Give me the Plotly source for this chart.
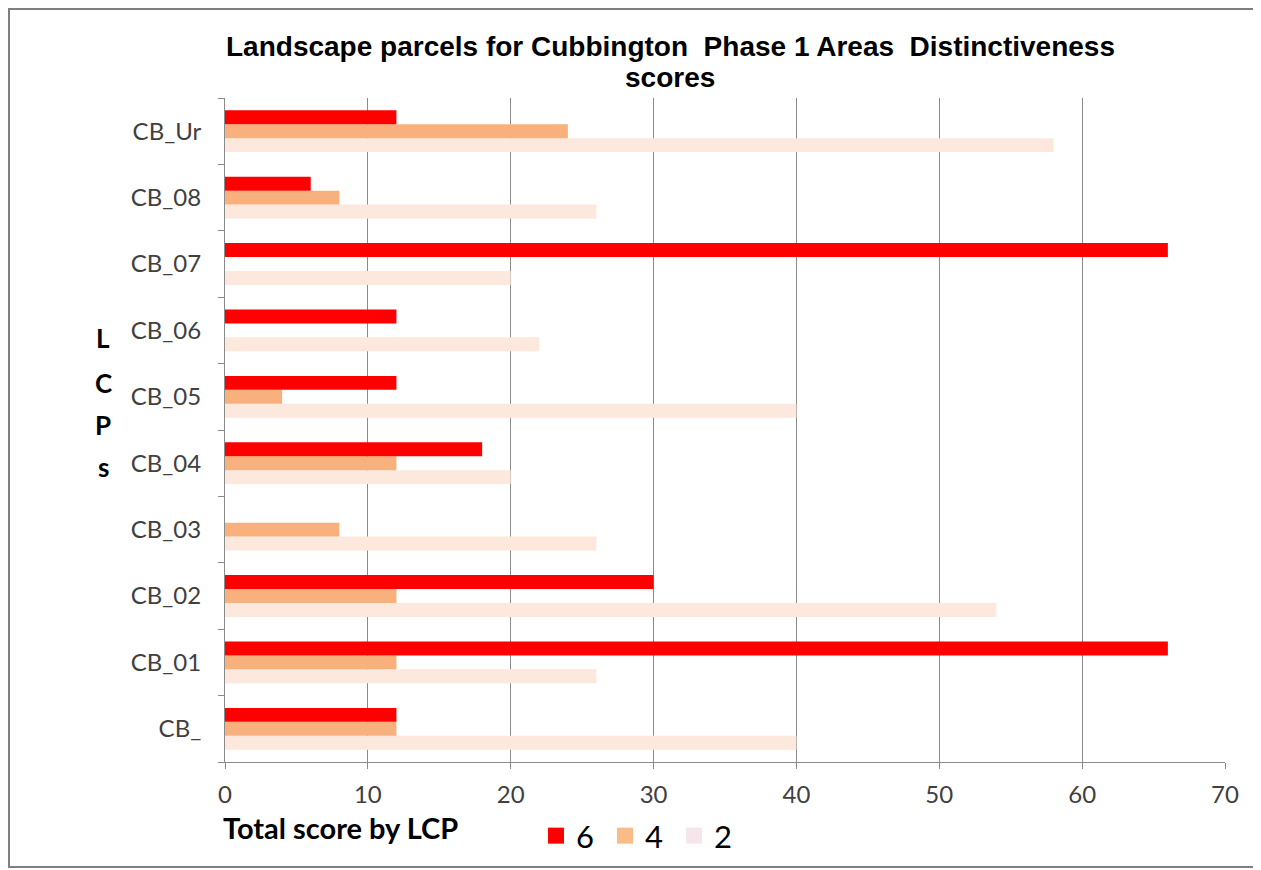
import plotly.graph_objects as go

categories = ["CB_", "CB_01", "CB_02", "CB_03", "CB_04", "CB_05", "CB_06", "CB_07", "CB_08", "CB_Ur"]
series_names = ["6", "4", "2"]
values_6 = [12, 66, 30, 0, 18, 12, 12, 66, 6, 12]
values_4 = [12, 12, 12, 8, 12, 4, 0, 0, 8, 24]
values_2 = [40, 26, 54, 26, 20, 40, 22, 20, 26, 58]
x_ticks = [0, 10, 20, 30, 40, 50, 60, 70]
title_lines = ["Landscape parcels for Cubbington  Phase 1 Areas  Distinctiveness", "scores"]
y_title_letters = ["L", "C", "P", "s"]
x_title_text = "Total score by LCP"

colors = {"6": "#FF0000", "4": "#F8B07C", "2": "#FCE8DD"}
legend_colors = {"6": "#FF0000", "4": "#F9BC88", "2": "#F6E6EC"}

OFF = 8  # page body margin
W, H = 1261 - OFF, 870 - OFF
L, R, T, B = 225 - OFF, 36, 98 - OFF, 108
pw, ph = W - L - R, H - T - B

def px(x):
    return (x - OFF - L) / pw

def py(y):
    return (H - B - (y - OFF)) / ph

fig = go.Figure()
# added bottom-to-top within each group: 2 (bottom), 4, 6 (top)
for name, vals in [("2", values_2), ("4", values_4), ("6", values_6)]:
    fig.add_trace(go.Bar(
        y=categories, x=vals, name=name, orientation="h",
        marker=dict(color=colors[name], line=dict(width=0)),
        showlegend=False,
    ))
# legend entries with larger square swatches
for rank, name in enumerate(series_names, start=1):
    fig.add_trace(go.Scatter(
        x=[None], y=[None], mode="markers", name=name,
        marker=dict(symbol="square", size=20, color=legend_colors[name]),
        legendrank=rank, showlegend=True,
    ))

tick_font = dict(family="Lato, Carlito, Calibri, sans-serif", size=24, color="#404040")

fig.update_layout(
    width=W, height=H,
    margin=dict(l=L, r=R, t=T, b=B, autoexpand=False),
    paper_bgcolor="white", plot_bgcolor="white",
    barmode="group", bargap=0.37, bargroupgap=0,
    showlegend=True,
    legend=dict(orientation="h", x=px(536), y=py(809), xanchor="left", yanchor="top",
                font=dict(family="Lato, Carlito, Calibri, sans-serif", size=31, color="#000000"),
                itemsizing="trace", itemwidth=30, entrywidth=24, bgcolor="rgba(0,0,0,0)"),
    xaxis=dict(range=[0, 70], tickvals=x_ticks, showgrid=True, gridcolor="#8a8a8a", gridwidth=1,
               zeroline=False, showline=True, linecolor="#8a8a8a", linewidth=1,
               ticks="outside", ticklen=6, tickcolor="#8a8a8a", tickfont=tick_font,
               ticklabelstandoff=5, fixedrange=True),
    yaxis=dict(type="category", categoryorder="array", categoryarray=categories,
               showgrid=False, zeroline=False, showline=True, linecolor="#8a8a8a", linewidth=1,
               ticks="outside", ticklen=6, tickcolor="#8a8a8a", tickson="boundaries",
               tickfont=tick_font, ticklabelstandoff=18, fixedrange=True),
)

title_font = dict(family="Liberation Sans Narrow, Arial Narrow, Liberation Sans, Arial", size=28, color="#000000")
annotations = []
for line, yy in zip(title_lines, [47, 77]):
    annotations.append(dict(text="<b>" + line + "</b>", x=px(670), y=py(yy), xref="paper", yref="paper",
                            xanchor="center", yanchor="middle", showarrow=False, font=title_font))
annotations.append(dict(text="<b>" + x_title_text + "</b>", x=px(221), y=py(808), xref="paper", yref="paper",
                        xanchor="left", yanchor="top", showarrow=False,
                        font=dict(family="Lato, Carlito, Calibri, sans-serif", size=29, color="#000000")))
for letter, yy in zip(y_title_letters, [338, 383, 425, 467]):
    annotations.append(dict(text="<b>" + letter + "</b>", x=px(103), y=py(yy), xref="paper", yref="paper",
                            xanchor="center", yanchor="middle", showarrow=False,
                            font=dict(family="Lato, Carlito, Calibri, sans-serif", size=26, color="#000000")))
fig.update_layout(annotations=annotations)

fig.add_shape(type="rect", xref="paper", yref="paper",
              x0=px(9), x1=px(1256), y0=py(867), y1=py(9),
              line=dict(color="#7f7f7f", width=2), fillcolor="rgba(0,0,0,0)", layer="below")

fig.write_html("out.html")
